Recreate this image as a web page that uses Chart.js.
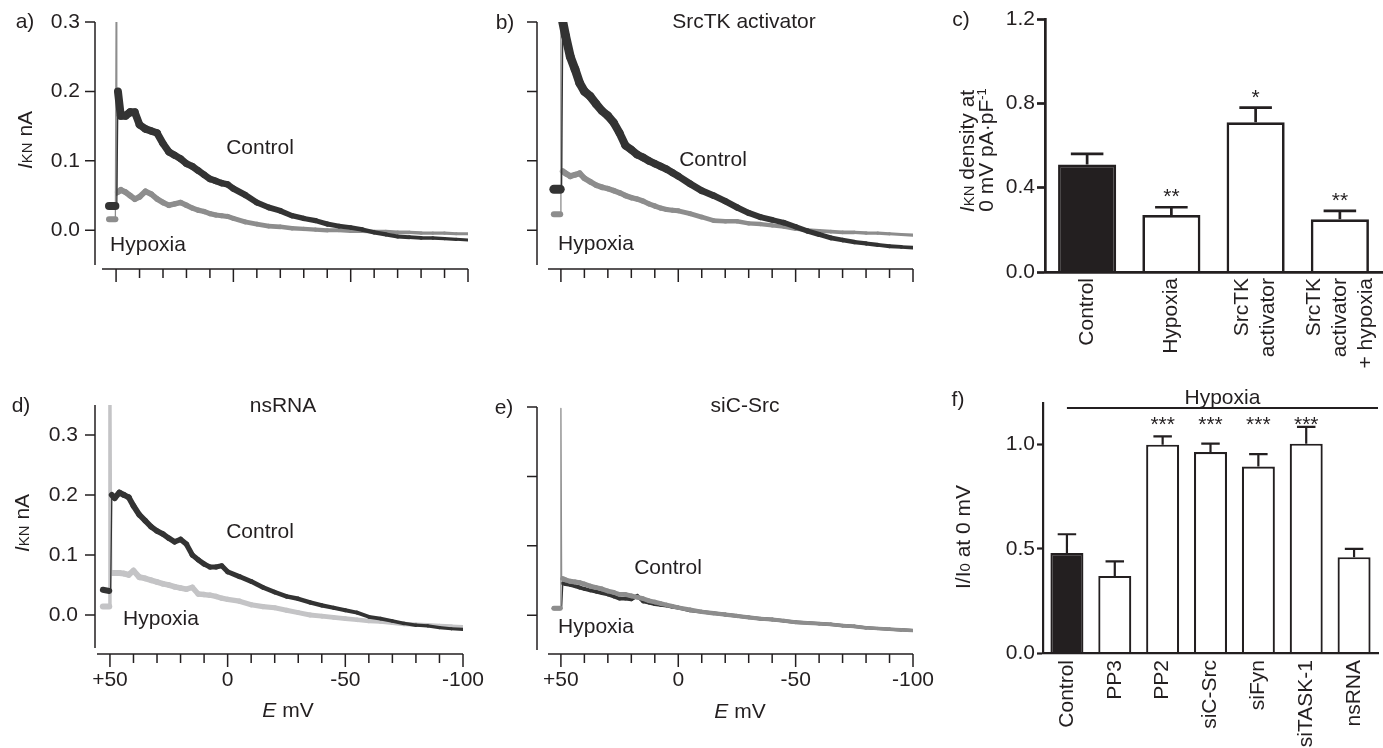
<!DOCTYPE html>
<html>
<head>
<meta charset="utf-8">
<title>IKN, hypoxia and Src kinases</title>
<script src="https://cdn.jsdelivr.net/npm/chart.js@4.4.1/dist/chart.umd.min.js"></script>
<style>
  html, body { margin: 0; padding: 0; background: #fff; }
  body { position: relative; width: 1383px; height: 748px; overflow: hidden;
         font-family: "Liberation Sans", Arial, sans-serif; color: #231f20; }
  canvas { position: absolute; }
  .t { position: absolute; font-size: 21px; line-height: 21px; white-space: nowrap;
       transform: translate(-50%, -50%); }
  .r { transform: translate(-50%, -50%) rotate(-90deg); }
  .sm { font-size: 15px; }
  .sup { font-size: 13px; position: relative; top: -7px; }
</style>
</head>
<body>
<canvas id="pa" width="480" height="300" style="left:0;top:0"></canvas>
<canvas id="pb" width="480" height="300" style="left:480px;top:0"></canvas>
<canvas id="pc" width="433" height="370" style="left:950px;top:0"></canvas>
<canvas id="pd" width="500" height="378" style="left:0;top:370px"></canvas>
<canvas id="pe" width="480" height="378" style="left:480px;top:370px"></canvas>
<canvas id="pf" width="433" height="378" style="left:950px;top:370px"></canvas>

<div class="t" style="left:25px;top:20px">a)</div>
<div class="t" style="left:505px;top:21px">b)</div>
<div class="t" style="left:961px;top:18px">c)</div>
<div class="t" style="left:21px;top:404px">d)</div>
<div class="t" style="left:504px;top:406px">e)</div>
<div class="t" style="left:958px;top:398px">f)</div>

<div class="t" style="left:744px;top:20px">SrcTK activator</div>
<div class="t" style="left:283px;top:404px">nsRNA</div>
<div class="t" style="left:745px;top:404px">siC-Src</div>

<div class="t" style="left:260px;top:146px">Control</div>
<div class="t" style="left:148px;top:243px">Hypoxia</div>
<div class="t" style="left:713px;top:158px">Control</div>
<div class="t" style="left:596px;top:242px">Hypoxia</div>
<div class="t" style="left:260px;top:530px">Control</div>
<div class="t" style="left:161px;top:617px">Hypoxia</div>
<div class="t" style="left:668px;top:566px">Control</div>
<div class="t" style="left:596px;top:625px">Hypoxia</div>

<div class="t" style="left:288px;top:709px"><i>E</i> mV</div>
<div class="t" style="left:740px;top:710px"><i>E</i> mV</div>
<div class="t r" style="left:25px;top:140px"><i>I</i><span class="sm">KN</span> nA</div>
<div class="t r" style="left:22px;top:523px"><i>I</i><span class="sm">KN</span> nA</div>
<div class="t r" style="left:967px;top:151px"><i>I</i><span class="sm">KN</span> density at</div>
<div class="t r" style="left:987px;top:150px">0 mV pA·pF<span class="sup">-1</span></div>
<div class="t r" style="left:963px;top:537px">I/I<span class="sm">0</span> at 0 mV</div>

<script>
// ramp voltages (mV), shared by all current traces
const voltage = [53, 50.3, 50, 49.7, 49.2,
  48, 46, 44, 42, 40,
  37.5, 35, 32.5, 30, 27.5,
  25, 22.5, 20, 17.5, 15,
  12.5, 10, 7.5, 5, 2.5,
  0, -5, -10, -15, -20,
  -25, -30, -35, -40, -45,
  -50, -55, -60, -65, -70,
  -75, -80, -85, -90, -95,
  -100];
const voltageTicks = [50, 40, 30, 20, 10, 0, -10, -20, -30, -40, -50, -60, -70, -80, -90, -100];
const voltageLabels = [50, 0, -50, -100];
const currentTicks = [0, 0.1, 0.2, 0.3];

// a) control / hypoxia (nA)
const ctrlA = [0.035, 0.035, 0.035, 0.036, 0.2,
  0.165, 0.165, 0.17, 0.17, 0.152,
  0.146, 0.143, 0.14, 0.125, 0.113,
  0.108, 0.103, 0.096, 0.092, 0.086,
  0.08, 0.074, 0.071, 0.068, 0.066,
  0.06, 0.051, 0.04, 0.033, 0.028,
  0.021, 0.017, 0.014, 0.009, 0.006,
  0.004, 0.001, -0.003, -0.006, -0.009,
  -0.01, -0.011, -0.011, -0.012, -0.013,
  -0.014];
const hypoxA = [0.016, 0.016, 0.3, 0.05, 0.055,
  0.058, 0.055, 0.05, 0.045, 0.048,
  0.056, 0.052, 0.045, 0.04, 0.036,
  0.038, 0.04, 0.036, 0.032, 0.029,
  0.027, 0.024, 0.022, 0.021, 0.02,
  0.017, 0.012, 0.009, 0.006, 0.005,
  0.003, 0.002, 0.001, 0, 0,
  -0.001, -0.001, -0.002, -0.002, -0.003,
  -0.003, -0.004, -0.004, -0.004, -0.005,
  -0.005];

// b) SrcTK activator
const ctrlB = [0.059, 0.059, 0.06, 0.06, 0.3,
  0.28, 0.25, 0.232, 0.212, 0.2,
  0.193, 0.182, 0.172, 0.165, 0.155,
  0.14, 0.122, 0.116, 0.109, 0.105,
  0.1, 0.096, 0.092, 0.088, 0.083,
  0.078, 0.067, 0.057, 0.05, 0.042,
  0.033, 0.025, 0.019, 0.015, 0.011,
  0.005, -0.001, -0.006, -0.011, -0.014,
  -0.017, -0.019, -0.021, -0.023, -0.024,
  -0.025];
const hypoxB = [0.023, 0.023, 0.3, 0.085, 0.085,
  0.082, 0.078, 0.08, 0.082, 0.075,
  0.07, 0.065, 0.062, 0.06, 0.057,
  0.054, 0.05, 0.047, 0.045, 0.042,
  0.038, 0.035, 0.032, 0.03, 0.029,
  0.028, 0.024, 0.019, 0.014, 0.013,
  0.013, 0.01, 0.009, 0.007, 0.005,
  0.002, 0, -0.001, -0.002, -0.003,
  -0.003, -0.004, -0.004, -0.005, -0.006,
  -0.007];

// d) nsRNA
const ctrlD = [0.042, 0.04, 0.04, 0.04, 0.2,
  0.195, 0.204, 0.2, 0.196, 0.182,
  0.167, 0.157, 0.147, 0.14, 0.135,
  0.128, 0.122, 0.126, 0.118, 0.1,
  0.092, 0.085, 0.08, 0.08, 0.082,
  0.072, 0.064, 0.056, 0.046, 0.038,
  0.031, 0.027, 0.021, 0.016, 0.012,
  0.008, 0.004, -0.003, -0.006, -0.01,
  -0.014, -0.017, -0.018, -0.021, -0.023,
  -0.024];
const hypoxD = [0.014, 0.014, 0.35, 0.07, 0.07,
  0.07, 0.07, 0.069, 0.067, 0.074,
  0.063, 0.061, 0.058, 0.055, 0.052,
  0.05, 0.047, 0.045, 0.043, 0.046,
  0.035, 0.034, 0.033, 0.031, 0.028,
  0.026, 0.023, 0.017, 0.014, 0.012,
  0.008, 0.004, 0, -0.002, -0.004,
  -0.006, -0.008, -0.01, -0.011, -0.013,
  -0.015, -0.016, -0.017, -0.018, -0.019,
  -0.02];

// e) siC-Src
const ctrlE = [0.01, 0.01, 0.01, 0.01, 0.046,
  0.045, 0.044, 0.042, 0.04, 0.038,
  0.036, 0.034, 0.032, 0.03, 0.027,
  0.024, 0.024, 0.023, 0.028, 0.02,
  0.018, 0.016, 0.015, 0.014, 0.012,
  0.011, 0.007, 0.005, 0.003, 0.001,
  -0.001, -0.003, -0.005, -0.006, -0.008,
  -0.01, -0.011, -0.012, -0.013, -0.015,
  -0.016, -0.018, -0.019, -0.02, -0.021,
  -0.022];
const hypoxE = [0.01, 0.01, 0.298, 0.055, 0.053,
  0.051, 0.049, 0.048, 0.047, 0.045,
  0.042, 0.04, 0.038, 0.035, 0.033,
  0.03, 0.03, 0.028, 0.026, 0.024,
  0.021, 0.019, 0.017, 0.015, 0.013,
  0.011, 0.008, 0.005, 0.003, 0.001,
  -0.001, -0.003, -0.005, -0.006, -0.008,
  -0.01, -0.011, -0.012, -0.013, -0.015,
  -0.016, -0.018, -0.019, -0.02, -0.021,
  -0.022];

// c) IKN density at 0 mV
const densityLabels = [['Control'], ['Hypoxia'], ['SrcTK', 'activator'], ['SrcTK', 'activator', '+ hypoxia']];
const densityValues = [0.51, 0.27, 0.71, 0.25];
const densityErrors = [0.05, 0.037, 0.07, 0.04];
const densityStars = ['', '**', '*', '**'];
const densityTicks = [0, 0.4, 0.8, 1.2];

// f) I/I0 at 0 mV
const ratioLabels = ['Control', 'PP3', 'PP2', 'siC-Src', 'siFyn', 'siTASK-1', 'nsRNA'];
const ratioValues = [0.48, 0.37, 1.0, 0.965, 0.895, 1.005, 0.46];
const ratioErrors = [0.09, 0.07, 0.04, 0.04, 0.06, 0.08, 0.04];
const ratioStars = ['', '', '***', '***', '***', '***', ''];
const ratioTicks = [0, 0.5, 1.0];

const INK = '#231f20';
const DARK = '#333333';
const GRAY = '#8d8d8d';
const LIGHT = '#c4c4c6';
const FONT = '"Liberation Sans", Arial, sans-serif';
Chart.defaults.font.family = FONT;
Chart.defaults.font.size = 21;
Chart.defaults.color = INK;

// pin axis box sizes so the plot areas land where the figure has them
function fixBox(size, horizontal) {
  return s => {
    if (horizontal) s.height = size; else s.width = size;
    s.paddingLeft = s.paddingRight = s.paddingTop = s.paddingBottom = 0;
  };
}

// noisy traces: thicker near the depolarised end, thin on the step/spike
function segWidth(c, w, spike) {
  const a = c.p0.parsed.x, b = c.p1.parsed.x;
  if (Math.abs(a - b) < 1) return spike;
  const t = ((a + b) / 2 + 100) / 150;
  return w[1] + (w[0] - w[1]) * t;
}

// detached Igor-style axes
function traceAxes(yGap, xGap) {
  return {
    id: 'traceAxes',
    afterDraw(chart) {
      const { ctx, chartArea: ca, scales: { x, y } } = chart;
      const ax = ca.left - yGap, ay = ca.bottom + xGap;
      ctx.save();
      ctx.strokeStyle = INK;
      ctx.lineWidth = 1.5;
      ctx.beginPath();
      ctx.moveTo(ax, ca.top); ctx.lineTo(ax, ca.bottom);
      y.ticks.forEach(t => {
        const py = y.getPixelForValue(t.value);
        ctx.moveTo(ax - 10, py); ctx.lineTo(ax, py);
      });
      ctx.moveTo(ca.left, ay); ctx.lineTo(ca.right, ay);
      voltageTicks.forEach(v => {
        const px = x.getPixelForValue(v);
        ctx.moveTo(px, ay); ctx.lineTo(px, ay + (v % 50 === 0 ? 13 : 9));
      });
      ctx.stroke();
      ctx.restore();
    }
  };
}

function traceChart(id, cfg) {
  return new Chart(document.getElementById(id), {
    type: 'line',
    data: {
      datasets: cfg.series.map(s => ({
        data: voltage.map((v, i) => ({ x: v, y: s.values[i] })),
        borderColor: s.color,
        pointRadius: 0,
        borderJoinStyle: 'round',
        borderCapStyle: 'round',
        segment: { borderWidth: c => segWidth(c, s.width, s.spike || 1.3) },
      })),
    },
    options: {
      responsive: false, animation: false, events: [],
      layout: { padding: cfg.padding },
      plugins: { legend: { display: false }, tooltip: { enabled: false } },
      scales: {
        x: {
          type: 'linear', reverse: true, min: -100, max: cfg.xMax,
          grid: { display: false, drawTicks: false }, border: { display: false },
          afterBuildTicks: s => { s.ticks = voltageTicks.map(v => ({ value: v })); },
          afterFit: fixBox(cfg.xHeight, true),
          ticks: {
            display: !!cfg.xLabels, padding: cfg.xPad || 0, autoSkip: false, maxRotation: 0,
            callback: v => voltageLabels.includes(v) ? (v > 0 ? '+' + v : String(v)) : '',
          },
        },
        y: {
          min: cfg.yMin, max: cfg.yMax,
          grid: { display: false, drawTicks: false }, border: { display: false },
          afterBuildTicks: s => { s.ticks = currentTicks.map(v => ({ value: v })); },
          afterFit: fixBox(cfg.yWidth, false),
          ticks: { display: !!cfg.yLabels, padding: cfg.yPad || 0, callback: v => v.toFixed(1) },
        },
      },
    },
    plugins: [traceAxes(cfg.yGap, cfg.xGap)],
  });
}

// error bars, significance stars, rotated category labels
function barExtras(cfg) {
  return {
    id: 'barExtras',
    afterDraw(chart) {
      const { ctx, chartArea: ca, scales: { y } } = chart;
      const bars = chart.getDatasetMeta(0).data;
      ctx.save();
      ctx.strokeStyle = INK;
      ctx.fillStyle = INK;
      ctx.lineWidth = cfg.lineWidth;
      ctx.beginPath();
      bars.forEach((bar, i) => {
        const top = y.getPixelForValue(cfg.values[i] + cfg.errors[i]);
        const half = bar.width * 0.28;
        ctx.moveTo(bar.x, bar.y); ctx.lineTo(bar.x, top);
        ctx.moveTo(bar.x - half, top); ctx.lineTo(bar.x + half, top);
      });
      if (cfg.span) {
        const sy = ca.top + cfg.span.offset;
        ctx.moveTo(bars[cfg.span.from].x, sy); ctx.lineTo(ca.right, sy);
      }
      ctx.stroke();

      ctx.font = '21px ' + FONT;
      ctx.textAlign = 'center';
      ctx.textBaseline = 'alphabetic';
      bars.forEach((bar, i) => {
        if (!cfg.stars[i]) return;
        const yy = cfg.starRow != null
          ? ca.top + cfg.starRow
          : y.getPixelForValue(cfg.values[i] + cfg.errors[i]) - 4;
        ctx.fillText(cfg.stars[i], bar.x, yy);
      });
      if (cfg.span) {
        ctx.fillText(cfg.span.label, (bars[cfg.span.from].x + ca.right) / 2, ca.top + cfg.span.offset - 4);
      }

      ctx.textAlign = 'right';
      ctx.textBaseline = 'middle';
      bars.forEach((bar, i) => {
        const lines = [].concat(cfg.labels[i]);
        ctx.save();
        ctx.translate(bar.x, ca.bottom + cfg.labelGap);
        ctx.rotate(-Math.PI / 2);
        lines.forEach((ln, k) => ctx.fillText(ln, 0, (k - (lines.length - 1) / 2) * 26));
        ctx.restore();
      });
      ctx.restore();
    }
  };
}

function barChart(id, cfg) {
  return new Chart(document.getElementById(id), {
    type: 'bar',
    data: {
      labels: cfg.labels.map(l => [].concat(l).join(' ')),
      datasets: [{
        data: cfg.values,
        backgroundColor: cfg.values.map((v, i) => i === 0 ? INK : '#ffffff'),
        borderColor: INK,
        borderWidth: cfg.lineWidth,
        barPercentage: 0.69,
        categoryPercentage: 1,
      }],
    },
    options: {
      responsive: false, animation: false, events: [],
      layout: { padding: cfg.padding },
      plugins: { legend: { display: false }, tooltip: { enabled: false } },
      scales: {
        x: {
          grid: { display: false, drawTicks: false },
          border: { display: true, color: INK, width: cfg.lineWidth, z: 1 },
          ticks: { display: false },
          afterFit: fixBox(cfg.xHeight, true),
        },
        y: {
          min: 0, max: cfg.yMax,
          grid: { display: true, drawOnChartArea: false, drawTicks: true,
                  tickLength: cfg.tickLength, tickWidth: cfg.lineWidth, tickColor: INK },
          border: { display: true, color: INK, width: cfg.lineWidth, z: 1 },
          afterBuildTicks: s => { s.ticks = cfg.ticks.map(v => ({ value: v })); },
          afterFit: fixBox(cfg.yWidth, false),
          ticks: { padding: 2, callback: v => v.toFixed(1) },
        },
      },
    },
    plugins: [barExtras(cfg)],
  });
}

traceChart('pa', {
  padding: { top: 22, right: 12, left: 0, bottom: 0 },
  yWidth: 102, xHeight: 35, xMax: 56, yMin: -0.05, yMax: 0.3,
  yLabels: true, yPad: 22, yGap: 7, xGap: 4,
  series: [
    { values: ctrlA, color: DARK, width: [8, 3] },
    { values: hypoxA, color: GRAY, width: [6, 3] },
  ],
});

traceChart('pb', {
  padding: { top: 22, right: 47, left: 0, bottom: 0 },
  yWidth: 68, xHeight: 35, xMax: 55.5, yMin: -0.05, yMax: 0.3,
  yGap: 11, xGap: 4,
  series: [
    { values: ctrlB, color: DARK, width: [9, 3.5] },
    { values: hypoxB, color: GRAY, width: [6, 3] },
  ],
});

traceChart('pd', {
  padding: { top: 35, right: 37, left: 0, bottom: 0 },
  yWidth: 97, xHeight: 100, xMax: 55.5, yMin: -0.055, yMax: 0.35,
  yLabels: true, yPad: 19, xLabels: true, xPad: 20, yGap: 2, xGap: 6,
  series: [
    { values: ctrlD, color: DARK, width: [6, 3] },
    { values: hypoxD, color: LIGHT, width: [6, 4], spike: 3.5 },
  ],
});

traceChart('pe', {
  padding: { top: 37, right: 47, left: 0, bottom: 0 },
  yWidth: 68, xHeight: 98, xMax: 55.5, yMin: -0.05, yMax: 0.3,
  xLabels: true, xPad: 18, yGap: 11, xGap: 4,
  series: [
    { values: hypoxE, color: GRAY, width: [5, 3.5] },
    { values: ctrlE, color: DARK, width: [4, 3] },
  ],
});

barChart('pc', {
  labels: densityLabels, values: densityValues, errors: densityErrors,
  stars: densityStars, ticks: densityTicks, yMax: 1.2,
  padding: { top: 19, right: 1, left: 0, bottom: 0 },
  yWidth: 95, xHeight: 98, lineWidth: 2.7, tickLength: 8, labelGap: 6,
});

barChart('pf', {
  labels: ratioLabels, values: ratioValues, errors: ratioErrors,
  stars: ratioStars, ticks: ratioTicks, yMax: 1.2,
  padding: { top: 33, right: 5, left: 0, bottom: 0 },
  yWidth: 93, xHeight: 95, lineWidth: 2.2, tickLength: 6, labelGap: 7,
  starRow: 28, span: { from: 0, offset: 5, label: 'Hypoxia' },
});
</script>
</body>
</html>
